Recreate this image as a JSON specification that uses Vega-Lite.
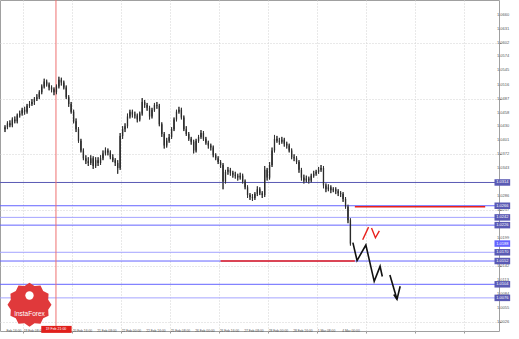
{
"$schema":"https://vega.github.io/schema/vega-lite/v6.json",
"width":499,"height":331,
"autosize":{"type":"none"},
"padding":{"left":0,"top":0,"right":20,"bottom":8},
"background":"#ffffff",
"config":{"view":{"stroke":"#a0a0a0"},"font":"Liberation Sans",
 "axis":{"title":null,"labels":false,"grid":true,"gridColor":"#d2d2d2","gridDash":[1,2],"domain":false,"ticks":true,"tickSize":2,"tickColor":"#999999"}},
"datasets":{
"candles":[
{"i":0,"o":1.0424,"h":1.0432,"l":1.0418,"c":1.0428},
{"i":1,"o":1.0428,"h":1.0440,"l":1.0424,"c":1.0436},
{"i":2,"o":1.0436,"h":1.0442,"l":1.0428,"c":1.0432},
{"i":3,"o":1.0432,"h":1.0448,"l":1.0428,"c":1.0444},
{"i":4,"o":1.0444,"h":1.0450,"l":1.0436,"c":1.0440},
{"i":5,"o":1.0440,"h":1.0456,"l":1.0436,"c":1.0452},
{"i":6,"o":1.0452,"h":1.0462,"l":1.0448,"c":1.0456},
{"i":7,"o":1.0456,"h":1.0468,"l":1.0452,"c":1.0464},
{"i":8,"o":1.0464,"h":1.0470,"l":1.0454,"c":1.0460},
{"i":9,"o":1.0460,"h":1.0476,"l":1.0456,"c":1.0472},
{"i":10,"o":1.0472,"h":1.0482,"l":1.0468,"c":1.0476},
{"i":11,"o":1.0476,"h":1.0486,"l":1.0472,"c":1.0480},
{"i":12,"o":1.0480,"h":1.0490,"l":1.0474,"c":1.0486},
{"i":13,"o":1.0486,"h":1.0496,"l":1.0482,"c":1.0490},
{"i":14,"o":1.0490,"h":1.0504,"l":1.0486,"c":1.0500},
{"i":15,"o":1.0500,"h":1.0516,"l":1.0496,"c":1.0512},
{"i":16,"o":1.0512,"h":1.0528,"l":1.0508,"c":1.0522},
{"i":17,"o":1.0522,"h":1.0526,"l":1.0512,"c":1.0516},
{"i":18,"o":1.0516,"h":1.0520,"l":1.0504,"c":1.0510},
{"i":19,"o":1.0510,"h":1.0514,"l":1.0500,"c":1.0506},
{"i":20,"o":1.0506,"h":1.0510,"l":1.0494,"c":1.0500},
{"i":21,"o":1.0500,"h":1.0516,"l":1.0496,"c":1.0512},
{"i":22,"o":1.0512,"h":1.0532,"l":1.0508,"c":1.0526},
{"i":23,"o":1.0526,"h":1.0530,"l":1.0514,"c":1.0520},
{"i":24,"o":1.0520,"h":1.0524,"l":1.0506,"c":1.0510},
{"i":25,"o":1.0510,"h":1.0514,"l":1.0486,"c":1.0490},
{"i":26,"o":1.0490,"h":1.0494,"l":1.0470,"c":1.0476},
{"i":27,"o":1.0476,"h":1.0480,"l":1.0456,"c":1.0460},
{"i":28,"o":1.0460,"h":1.0464,"l":1.0436,"c":1.0440},
{"i":29,"o":1.0440,"h":1.0446,"l":1.0418,"c":1.0424},
{"i":30,"o":1.0424,"h":1.0428,"l":1.0396,"c":1.0400},
{"i":31,"o":1.0400,"h":1.0404,"l":1.0376,"c":1.0380},
{"i":32,"o":1.0380,"h":1.0384,"l":1.0360,"c":1.0364},
{"i":33,"o":1.0364,"h":1.0370,"l":1.0352,"c":1.0358},
{"i":34,"o":1.0358,"h":1.0366,"l":1.0348,"c":1.0354},
{"i":35,"o":1.0354,"h":1.0370,"l":1.0350,"c":1.0364},
{"i":36,"o":1.0364,"h":1.0368,"l":1.0342,"c":1.0348},
{"i":37,"o":1.0348,"h":1.0366,"l":1.0344,"c":1.0360},
{"i":38,"o":1.0360,"h":1.0366,"l":1.0348,"c":1.0354},
{"i":39,"o":1.0354,"h":1.0370,"l":1.0350,"c":1.0364},
{"i":40,"o":1.0364,"h":1.0380,"l":1.0360,"c":1.0374},
{"i":41,"o":1.0374,"h":1.0386,"l":1.0370,"c":1.0380},
{"i":42,"o":1.0380,"h":1.0384,"l":1.0370,"c":1.0376},
{"i":43,"o":1.0376,"h":1.0380,"l":1.0362,"c":1.0366},
{"i":44,"o":1.0366,"h":1.0372,"l":1.0356,"c":1.0360},
{"i":45,"o":1.0360,"h":1.0364,"l":1.0348,"c":1.0354},
{"i":46,"o":1.0354,"h":1.0360,"l":1.0332,"c":1.0344},
{"i":47,"o":1.0344,"h":1.0416,"l":1.0340,"c":1.0410},
{"i":48,"o":1.0410,"h":1.0430,"l":1.0404,"c":1.0424},
{"i":49,"o":1.0424,"h":1.0436,"l":1.0418,"c":1.0430},
{"i":50,"o":1.0430,"h":1.0456,"l":1.0426,"c":1.0450},
{"i":51,"o":1.0450,"h":1.0464,"l":1.0446,"c":1.0460},
{"i":52,"o":1.0460,"h":1.0464,"l":1.0448,"c":1.0454},
{"i":53,"o":1.0454,"h":1.0460,"l":1.0446,"c":1.0452},
{"i":54,"o":1.0452,"h":1.0456,"l":1.0438,"c":1.0444},
{"i":55,"o":1.0444,"h":1.0460,"l":1.0440,"c":1.0456},
{"i":56,"o":1.0456,"h":1.0488,"l":1.0452,"c":1.0480},
{"i":57,"o":1.0480,"h":1.0484,"l":1.0468,"c":1.0474},
{"i":58,"o":1.0474,"h":1.0478,"l":1.0462,"c":1.0468},
{"i":59,"o":1.0468,"h":1.0472,"l":1.0444,"c":1.0450},
{"i":60,"o":1.0450,"h":1.0468,"l":1.0446,"c":1.0464},
{"i":61,"o":1.0464,"h":1.0478,"l":1.0460,"c":1.0474},
{"i":62,"o":1.0474,"h":1.0480,"l":1.0466,"c":1.0472},
{"i":63,"o":1.0472,"h":1.0476,"l":1.0430,"c":1.0434},
{"i":64,"o":1.0434,"h":1.0438,"l":1.0408,"c":1.0414},
{"i":65,"o":1.0414,"h":1.0418,"l":1.0384,"c":1.0390},
{"i":66,"o":1.0390,"h":1.0406,"l":1.0386,"c":1.0400},
{"i":67,"o":1.0400,"h":1.0414,"l":1.0396,"c":1.0408},
{"i":68,"o":1.0408,"h":1.0428,"l":1.0404,"c":1.0424},
{"i":69,"o":1.0424,"h":1.0448,"l":1.0420,"c":1.0444},
{"i":70,"o":1.0444,"h":1.0464,"l":1.0440,"c":1.0460},
{"i":71,"o":1.0460,"h":1.0470,"l":1.0456,"c":1.0464},
{"i":72,"o":1.0464,"h":1.0468,"l":1.0444,"c":1.0448},
{"i":73,"o":1.0448,"h":1.0452,"l":1.0420,"c":1.0424},
{"i":74,"o":1.0424,"h":1.0430,"l":1.0410,"c":1.0414},
{"i":75,"o":1.0414,"h":1.0418,"l":1.0400,"c":1.0404},
{"i":76,"o":1.0404,"h":1.0408,"l":1.0392,"c":1.0398},
{"i":77,"o":1.0398,"h":1.0402,"l":1.0374,"c":1.0380},
{"i":78,"o":1.0380,"h":1.0404,"l":1.0376,"c":1.0400},
{"i":79,"o":1.0400,"h":1.0412,"l":1.0396,"c":1.0408},
{"i":80,"o":1.0408,"h":1.0422,"l":1.0404,"c":1.0416},
{"i":81,"o":1.0416,"h":1.0420,"l":1.0400,"c":1.0404},
{"i":82,"o":1.0404,"h":1.0408,"l":1.0392,"c":1.0396},
{"i":83,"o":1.0396,"h":1.0400,"l":1.0384,"c":1.0390},
{"i":84,"o":1.0390,"h":1.0394,"l":1.0380,"c":1.0386},
{"i":85,"o":1.0386,"h":1.0390,"l":1.0366,"c":1.0370},
{"i":86,"o":1.0370,"h":1.0374,"l":1.0360,"c":1.0364},
{"i":87,"o":1.0364,"h":1.0368,"l":1.0352,"c":1.0356},
{"i":88,"o":1.0356,"h":1.0360,"l":1.0344,"c":1.0350},
{"i":89,"o":1.0350,"h":1.0354,"l":1.0300,"c":1.0316},
{"i":90,"o":1.0316,"h":1.0340,"l":1.0312,"c":1.0336},
{"i":91,"o":1.0336,"h":1.0346,"l":1.0330,"c":1.0340},
{"i":92,"o":1.0340,"h":1.0344,"l":1.0328,"c":1.0334},
{"i":93,"o":1.0334,"h":1.0338,"l":1.0324,"c":1.0330},
{"i":94,"o":1.0330,"h":1.0336,"l":1.0322,"c":1.0328},
{"i":95,"o":1.0328,"h":1.0332,"l":1.0318,"c":1.0324},
{"i":96,"o":1.0324,"h":1.0334,"l":1.0320,"c":1.0328},
{"i":97,"o":1.0328,"h":1.0332,"l":1.0312,"c":1.0316},
{"i":98,"o":1.0316,"h":1.0320,"l":1.0300,"c":1.0304},
{"i":99,"o":1.0304,"h":1.0308,"l":1.0282,"c":1.0288},
{"i":100,"o":1.0288,"h":1.0292,"l":1.0278,"c":1.0284},
{"i":101,"o":1.0284,"h":1.0290,"l":1.0276,"c":1.0282},
{"i":102,"o":1.0282,"h":1.0294,"l":1.0278,"c":1.0290},
{"i":103,"o":1.0290,"h":1.0306,"l":1.0286,"c":1.0300},
{"i":104,"o":1.0300,"h":1.0304,"l":1.0288,"c":1.0292},
{"i":105,"o":1.0292,"h":1.0296,"l":1.0282,"c":1.0288},
{"i":106,"o":1.0288,"h":1.0348,"l":1.0284,"c":1.0340},
{"i":107,"o":1.0340,"h":1.0344,"l":1.0318,"c":1.0324},
{"i":108,"o":1.0324,"h":1.0356,"l":1.0320,"c":1.0350},
{"i":109,"o":1.0350,"h":1.0386,"l":1.0346,"c":1.0380},
{"i":110,"o":1.0380,"h":1.0412,"l":1.0376,"c":1.0404},
{"i":111,"o":1.0404,"h":1.0410,"l":1.0396,"c":1.0400},
{"i":112,"o":1.0400,"h":1.0406,"l":1.0392,"c":1.0398},
{"i":113,"o":1.0398,"h":1.0408,"l":1.0394,"c":1.0402},
{"i":114,"o":1.0402,"h":1.0406,"l":1.0388,"c":1.0394},
{"i":115,"o":1.0394,"h":1.0398,"l":1.0384,"c":1.0390},
{"i":116,"o":1.0390,"h":1.0394,"l":1.0376,"c":1.0380},
{"i":117,"o":1.0380,"h":1.0384,"l":1.0362,"c":1.0366},
{"i":118,"o":1.0366,"h":1.0372,"l":1.0358,"c":1.0364},
{"i":119,"o":1.0364,"h":1.0368,"l":1.0352,"c":1.0356},
{"i":120,"o":1.0356,"h":1.0360,"l":1.0334,"c":1.0340},
{"i":121,"o":1.0340,"h":1.0344,"l":1.0318,"c":1.0324},
{"i":122,"o":1.0324,"h":1.0330,"l":1.0312,"c":1.0318},
{"i":123,"o":1.0318,"h":1.0328,"l":1.0314,"c":1.0322},
{"i":124,"o":1.0322,"h":1.0326,"l":1.0312,"c":1.0318},
{"i":125,"o":1.0318,"h":1.0332,"l":1.0314,"c":1.0328},
{"i":126,"o":1.0328,"h":1.0338,"l":1.0324,"c":1.0332},
{"i":127,"o":1.0332,"h":1.0340,"l":1.0328,"c":1.0336},
{"i":128,"o":1.0336,"h":1.0346,"l":1.0332,"c":1.0340},
{"i":129,"o":1.0340,"h":1.0350,"l":1.0336,"c":1.0344},
{"i":130,"o":1.0344,"h":1.0348,"l":1.0302,"c":1.0308},
{"i":131,"o":1.0308,"h":1.0312,"l":1.0294,"c":1.0300},
{"i":132,"o":1.0300,"h":1.0310,"l":1.0296,"c":1.0304},
{"i":133,"o":1.0304,"h":1.0308,"l":1.0292,"c":1.0298},
{"i":134,"o":1.0298,"h":1.0304,"l":1.0294,"c":1.0300},
{"i":135,"o":1.0300,"h":1.0304,"l":1.0290,"c":1.0296},
{"i":136,"o":1.0296,"h":1.0300,"l":1.0286,"c":1.0292},
{"i":137,"o":1.0292,"h":1.0296,"l":1.0284,"c":1.0290},
{"i":138,"o":1.0290,"h":1.0294,"l":1.0274,"c":1.0280},
{"i":139,"o":1.0280,"h":1.0284,"l":1.0260,"c":1.0264},
{"i":140,"o":1.0264,"h":1.0268,"l":1.0230,"c":1.0236},
{"i":141,"o":1.0236,"h":1.0240,"l":1.0184,"c":1.0188}
],
"levels":[
{"p":1.0314,"s":"d"},{"p":1.0266,"s":"m"},{"p":1.0242,"s":"w"},{"p":1.0226,"s":"m"},
{"p":1.0170,"s":"w"},{"p":1.0152,"s":"m"},{"p":1.0104,"s":"m"},{"p":1.0076,"s":"w"}
],
"redlevels":[{"a":88,"b":142.8,"p":1.0152},{"a":142.8,"b":196,"p":1.0264}],
"boxes":[
{"p":1.0314,"k":"b"},{"p":1.0266,"k":"b"},{"p":1.0242,"k":"b"},{"p":1.0226,"k":"b"},
{"p":1.0188,"k":"k"},{"p":1.0170,"k":"b"},{"p":1.0152,"k":"b"},{"p":1.0104,"k":"b"},{"p":1.0076,"k":"b"}
],
"fcBlack":[
{"s":1,"n":1,"x":142,"p":1.0190},{"s":1,"n":2,"x":143.7,"p":1.0153},{"s":1,"n":3,"x":147.3,"p":1.0185},
{"s":1,"n":4,"x":150.7,"p":1.0110},{"s":1,"n":5,"x":153.1,"p":1.0141},{"s":1,"n":6,"x":154,"p":1.0120},
{"s":2,"n":1,"x":157.1,"p":1.0123},{"s":2,"n":2,"x":160,"p":1.0073},
{"s":3,"n":1,"x":158.7,"p":1.0083},{"s":3,"n":2,"x":160,"p":1.0073},{"s":3,"n":3,"x":161.3,"p":1.0100}
],
"fcRed":[
{"s":1,"n":1,"x":146,"p":1.0196},{"s":1,"n":2,"x":148.4,"p":1.0222},
{"s":2,"n":1,"x":149.6,"p":1.0220},{"s":2,"n":2,"x":151.2,"p":1.0200},{"s":2,"n":3,"x":152.8,"p":1.0214}
],
"ylabels":[{"v":1.066},{"v":1.0631},{"v":1.0602},{"v":1.0574},{"v":1.0545},{"v":1.0516},{"v":1.0487},{"v":1.0458},{"v":1.043},{"v":1.0401},{"v":1.0372},{"v":1.0343},{"v":1.0314},{"v":1.0286},{"v":1.0257},{"v":1.0228},{"v":1.0199},{"v":1.017},{"v":1.0142},{"v":1.0113},{"v":1.0084},{"v":1.0055},{"v":1.0026}],
"xlabels":[{"t":"Feb 16:00","v":0.2},{"t":"19 Feb 08:00","v":7.2},{"t":"20 Feb 16:00","v":27.2},{"t":"21 Feb 08:00","v":37.2},{"t":"22 Feb 00:00","v":47.2},{"t":"22 Feb 16:00","v":57.2},{"t":"25 Feb 08:00","v":67.2},{"t":"26 Feb 00:00","v":77.2},{"t":"26 Feb 16:00","v":87.2},{"t":"27 Feb 08:00","v":97.2},{"t":"28 Feb 00:00","v":107.2},{"t":"28 Feb 16:00","v":117.2},{"t":"1 Mar 08:00","v":127.2},{"t":"4 Mar 00:00","v":137.2}]
},
"layer":[
{"data":{"name":"candles"},"mark":{"type":"rule","color":"#333333","strokeWidth":1},
 "encoding":{
 "x":{"field":"i","type":"quantitative","scale":{"domain":[0,199.6],"nice":false,"zero":false},
  "axis":{"orient":"bottom","values":[7.2,17.2,27.2,37.2,47.2,57.2,67.2,77.2,87.2,97.2,107.2,117.2,127.2,137.2,147.2,157.2,167.2,177.2,187.2,197.2]}},
 "y":{"field":"l","type":"quantitative","scale":{"domain":[1.0018,1.068],"nice":false,"zero":false},
  "axis":{"orient":"right","values":[1.066,1.0631,1.0602,1.0574,1.0545,1.0516,1.0487,1.0458,1.043,1.0401,1.0372,1.0343,1.0314,1.0286,1.0257,1.0228,1.0199,1.017,1.0142,1.0113,1.0084,1.0055,1.0026]}},
 "y2":{"field":"h"}}},
{"data":{"name":"levels"},"mark":{"type":"rule","strokeWidth":1},
 "encoding":{"y":{"field":"p","type":"quantitative","scale":{"domain":[1.0018,1.068],"nice":false,"zero":false}},
 "color":{"field":"s","type":"nominal","scale":{"domain":["d","m","w"],"range":["#5a5ab4","#6464ff","#a4a4ff"]},"legend":null}}},
{"data":{"values":[{}]},"mark":{"type":"rule","color":"#ee7070","strokeWidth":1},
 "encoding":{"x":{"datum":20.8,"type":"quantitative","scale":{"domain":[0,199.6],"nice":false,"zero":false}}}},
{"data":{"name":"candles"},"mark":{"type":"rule","color":"#333333","strokeWidth":1},
 "encoding":{"x":{"field":"i","type":"quantitative","scale":{"domain":[0,199.6],"nice":false,"zero":false}},
 "y":{"field":"l","type":"quantitative","scale":{"domain":[1.0018,1.068],"nice":false,"zero":false}},
 "y2":{"field":"h"}}},
{"data":{"name":"candles"},"mark":{"type":"bar","color":"#2a2a2a","width":1.3},
 "encoding":{"x":{"field":"i","type":"quantitative","scale":{"domain":[0,199.6],"nice":false,"zero":false}},
 "y":{"field":"o","type":"quantitative","scale":{"domain":[1.0018,1.068],"nice":false,"zero":false}},
 "y2":{"field":"c"}}},
{"data":{"name":"redlevels"},"mark":{"type":"rule","color":"#e8201c","strokeWidth":1.6},
 "encoding":{"x":{"field":"a","type":"quantitative","scale":{"domain":[0,199.6],"nice":false,"zero":false}},
 "x2":{"field":"b"},
 "y":{"field":"p","type":"quantitative","scale":{"domain":[1.0018,1.068],"nice":false,"zero":false}}}},
{"data":{"name":"fcBlack"},"mark":{"type":"line","color":"#111111","strokeWidth":1.6},
 "encoding":{"x":{"field":"x","type":"quantitative","scale":{"domain":[0,199.6],"nice":false,"zero":false}},
 "y":{"field":"p","type":"quantitative","scale":{"domain":[1.0018,1.068],"nice":false,"zero":false}},
 "detail":{"field":"s","type":"nominal"},"order":{"field":"n","type":"quantitative"}}},
{"data":{"name":"fcRed"},"mark":{"type":"line","color":"#e8201c","strokeWidth":1.4},
 "encoding":{"x":{"field":"x","type":"quantitative","scale":{"domain":[0,199.6],"nice":false,"zero":false}},
 "y":{"field":"p","type":"quantitative","scale":{"domain":[1.0018,1.068],"nice":false,"zero":false}},
 "detail":{"field":"s","type":"nominal"},"order":{"field":"n","type":"quantitative"}}},
{"data":{"name":"ylabels"},"mark":{"type":"text","color":"#555555","fontSize":4,"align":"left","baseline":"middle"},
 "encoding":{"text":{"field":"v","type":"quantitative","format":".4f"},
 "x":{"datum":200.8,"type":"quantitative","scale":{"domain":[0,199.6],"nice":false,"zero":false}},
 "y":{"field":"v","type":"quantitative","scale":{"domain":[1.0018,1.068],"nice":false,"zero":false}}}},
{"data":{"name":"xlabels"},"mark":{"type":"text","color":"#555555","fontSize":3.3,"align":"left","baseline":"top","dx":1},
 "encoding":{"text":{"field":"t"},
 "x":{"field":"v","type":"quantitative","scale":{"domain":[0,199.6],"nice":false,"zero":false}},
 "y":{"datum":1.0012,"type":"quantitative","scale":{"domain":[1.0018,1.068],"nice":false,"zero":false}}}},
{"data":{"values":[{}]},"mark":{"type":"point","filled":true,"opacity":1,"color":"#e0393b","size":1936,
 "shape":"M1,0L0.85,0.228L0.866,0.5L0.622,0.622L0.5,0.866L0.228,0.85L0,1L-0.228,0.85L-0.5,0.866L-0.622,0.622L-0.866,0.5L-0.85,0.228L-1,0L-0.85,-0.228L-0.866,-0.5L-0.622,-0.622L-0.5,-0.866L-0.228,-0.85L0,-1L0.228,-0.85L0.5,-0.866L0.622,-0.622L0.866,-0.5L0.85,-0.228Z"},
 "encoding":{"x":{"datum":10,"type":"quantitative","scale":{"domain":[0,199.6],"nice":false,"zero":false}},
 "y":{"datum":1.0062,"type":"quantitative","scale":{"domain":[1.0018,1.068],"nice":false,"zero":false}}}},
{"data":{"values":[{}]},"mark":{"type":"point","filled":true,"opacity":1,"color":"#ffffff","size":70,"shape":"circle"},
 "encoding":{"x":{"datum":10,"type":"quantitative","scale":{"domain":[0,199.6],"nice":false,"zero":false}},
 "y":{"datum":1.0081,"type":"quantitative","scale":{"domain":[1.0018,1.068],"nice":false,"zero":false}}}},
{"data":{"values":[{"t":"InstaForex"}]},"mark":{"type":"text","color":"#ffffff","fontSize":6.5,"align":"center","baseline":"middle"},
 "encoding":{"text":{"field":"t"},"x":{"datum":10,"type":"quantitative","scale":{"domain":[0,199.6],"nice":false,"zero":false}},
 "y":{"datum":1.0042,"type":"quantitative","scale":{"domain":[1.0018,1.068],"nice":false,"zero":false}}}},
{"data":{"name":"boxes"},"mark":{"type":"bar","size":6.5},
 "encoding":{"x":{"datum":199.8,"type":"quantitative","scale":{"domain":[0,199.6],"nice":false,"zero":false}},
 "x2":{"datum":206.2},
 "y":{"field":"p","type":"quantitative","scale":{"domain":[1.0018,1.068],"nice":false,"zero":false}},
 "color":{"field":"k","type":"nominal","scale":{"domain":["b","k"],"range":["#2222e0","#111111"]},"legend":null}}},
{"data":{"name":"boxes"},"mark":{"type":"text","color":"#ffffff","fontSize":4,"align":"left","baseline":"middle"},
 "encoding":{"text":{"field":"p","type":"quantitative","format":".4f"},
 "x":{"datum":200.5,"type":"quantitative","scale":{"domain":[0,199.6],"nice":false,"zero":false}},
 "y":{"field":"p","type":"quantitative","scale":{"domain":[1.0018,1.068],"nice":false,"zero":false}}}},
{"data":{"values":[{}]},"mark":{"type":"bar","size":7,"color":"#e0201c"},
 "encoding":{"x":{"datum":14.8,"type":"quantitative","scale":{"domain":[0,199.6],"nice":false,"zero":false}},
 "x2":{"datum":27.2},
 "y":{"datum":1.0011,"type":"quantitative","scale":{"domain":[1.0018,1.068],"nice":false,"zero":false}}}},
{"data":{"values":[{"t":"19 Feb 21:00"}]},"mark":{"type":"text","color":"#ffffff","fontSize":3.5,"align":"center","baseline":"middle"},
 "encoding":{"text":{"field":"t"},"x":{"datum":20.8,"type":"quantitative","scale":{"domain":[0,199.6],"nice":false,"zero":false}},
 "y":{"datum":1.0011,"type":"quantitative","scale":{"domain":[1.0018,1.068],"nice":false,"zero":false}}}}
]
}
